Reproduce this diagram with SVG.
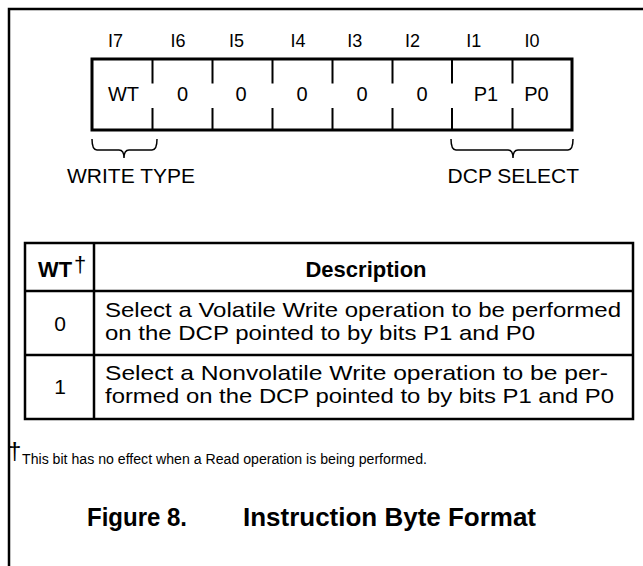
<svg xmlns="http://www.w3.org/2000/svg" width="643" height="566" viewBox="0 0 643 566">
<style>
text{font-family:"Liberation Sans",Arial,Helvetica,sans-serif;fill:#000}
.lbl{font-size:18px;text-anchor:middle}
.cell{font-size:20px;text-anchor:middle}
.brk{font-size:21px;text-anchor:middle}
.tb{font-size:21px}
.th{font-size:22px;font-weight:bold}
.ln{fill:none;stroke:#000}
</style>
<rect width="643" height="566" fill="#fff"/>
<g id="frame"><path class="ln" d="M9,700 L9,9 L700,9" stroke-width="2.5"/></g>
<g id="register">
<rect class="ln" x="92" y="59" width="480" height="71" stroke-width="3"/>
<g class="ln" stroke-width="2">
<path d="M152.5,59V83.5M152.5,108V130M212.5,59V83.5M212.5,108V130M272.5,59V83.5M272.5,108V130M332.5,59V83.5M332.5,108V130M392.5,59V83.5M392.5,108V130M452,59V83.5M452,108V130M512.5,59V83.5M512.5,108V130"/>
</g>
<text class="lbl" x="115.5" y="46.7">I7</text>
<text class="lbl" x="178" y="46.7">I6</text>
<text class="lbl" x="236.5" y="46.7">I5</text>
<text class="lbl" x="298" y="46.7">I4</text>
<text class="lbl" x="354.7" y="46.7">I3</text>
<text class="lbl" x="412.5" y="46.7">I2</text>
<text class="lbl" x="473.7" y="46.7">I1</text>
<text class="lbl" x="532" y="46.7">I0</text>
<text class="cell" x="123.5" y="101">WT</text>
<text class="cell" x="182.5" y="101">0</text>
<text class="cell" x="241" y="101">0</text>
<text class="cell" x="302" y="101">0</text>
<text class="cell" x="362" y="101">0</text>
<text class="cell" x="422" y="101">0</text>
<text class="cell" x="486" y="101">P1</text>
<text class="cell" x="536.5" y="101">P0</text>
</g>
<g id="braces">
<path class="ln" stroke-width="1.5" d="M92,139 Q92,150 97,150 L119,150 Q124,150 124,158 Q124,150 129,150 L152,150 Q157,150 157,139"/>
<path class="ln" stroke-width="1.5" d="M451,139 Q451,150 456,150 L508,150 Q513,150 513,158 Q513,150 518,150 L568,150 Q573,150 573,139"/>
<text class="brk" x="131" y="183.3">WRITE TYPE</text>
<text class="brk" x="513.3" y="183.3">DCP SELECT</text>
</g>
<g id="table">
<rect class="ln" x="25" y="243" width="608" height="176" stroke-width="2.5"/>
<path class="ln" stroke-width="2.5" d="M25,291H633M25,355H633M94,243V419"/>
<text class="th" x="38" y="276.7" textLength="34" lengthAdjust="spacingAndGlyphs">WT</text>
<text x="74" y="272" style="font-size:22px">†</text>
<text class="th" x="366" y="276.7" text-anchor="middle">Description</text>
<text class="tb" x="60" y="330.5" text-anchor="middle">0</text>
<text class="tb" x="60" y="394" text-anchor="middle">1</text>
<text class="tb" x="105" y="316.7" textLength="516" lengthAdjust="spacingAndGlyphs">Select a Volatile Write operation to be performed</text>
<text class="tb" x="105" y="340" textLength="430" lengthAdjust="spacingAndGlyphs">on the DCP pointed to by bits P1 and P0</text>
<text class="tb" x="105" y="380" textLength="503" lengthAdjust="spacingAndGlyphs">Select a Nonvolatile Write operation to be per-</text>
<text class="tb" x="105" y="403.3" textLength="509" lengthAdjust="spacingAndGlyphs">formed on the DCP pointed to by bits P1 and P0</text>
</g>
<g id="footnote">
<text x="8" y="459" style="font-size:24px">†</text>
<text x="22" y="464" style="font-size:14px" textLength="405" lengthAdjust="spacingAndGlyphs">This bit has no effect when a Read operation is being performed.</text>
</g>
<g id="caption">
<text x="87" y="526" style="font-size:25px;font-weight:bold" textLength="100" lengthAdjust="spacingAndGlyphs">Figure 8.</text>
<text x="243" y="526" style="font-size:25px;font-weight:bold" textLength="293" lengthAdjust="spacingAndGlyphs">Instruction Byte Format</text>
</g>
</svg>
